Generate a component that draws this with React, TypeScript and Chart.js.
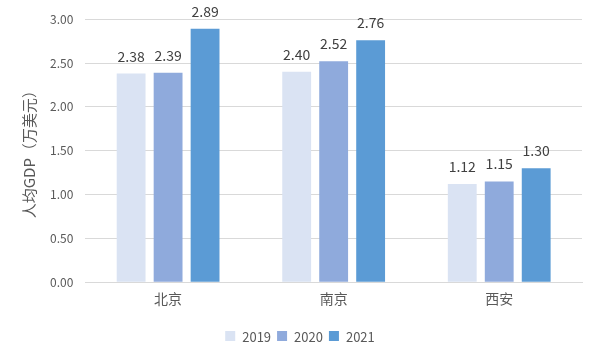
import React, { useEffect, useRef } from "react";
import { Chart, registerables } from "chart.js";

Chart.register(...registerables);

const categories = ["北京", "南京", "西安"];
const seriesNames = ["2019", "2020", "2021"];
const values2019 = [2.38, 2.4, 1.12];
const values2020 = [2.39, 2.52, 1.15];
const values2021 = [2.89, 2.76, 1.3];
const colors = ["#DAE3F3", "#8FAADC", "#5B9BD5"];
const yTicks = [0, 0.5, 1, 1.5, 2, 2.5, 3];
const yTitle = "人均GDP（万美元）";

const FONT = "'Noto Sans CJK SC', 'Noto Sans', sans-serif";

const labelPlugin = {
  id: "valueLabels",
  afterDatasetsDraw(chart: any) {
    const ctx = chart.ctx;
    ctx.save();
    ctx.font = `14px ${FONT}`;
    ctx.fillStyle = "#404040";
    ctx.textAlign = "center";
    ctx.textBaseline = "alphabetic";
    chart.data.datasets.forEach((ds: any, i: number) => {
      const meta = chart.getDatasetMeta(i);
      meta.data.forEach((bar: any, j: number) => {
        ctx.fillText(Number(ds.data[j]).toFixed(2), bar.x, bar.y - 12);
      });
    });
    ctx.restore();
  },
};

const legendPlugin = {
  id: "customLegend",
  afterDraw(chart: any) {
    const ctx = chart.ctx;
    ctx.save();
    ctx.font = `13px ${FONT}`;
    ctx.textBaseline = "middle";
    ctx.textAlign = "left";
    const box = 10;
    const gap = 7;
    const itemGap = 6;
    const items = chart.data.datasets.map((ds: any) => ({
      label: ds.label,
      color: ds.backgroundColor,
      w: box + gap + ctx.measureText(ds.label).width,
    }));
    const total = items.reduce((s: number, it: any) => s + it.w, 0) + itemGap * (items.length - 1);
    let x = chart.width / 2 - total / 2;
    const y = 336;
    items.forEach((it: any) => {
      ctx.fillStyle = it.color;
      ctx.fillRect(x, y - box / 2, box, box);
      ctx.fillStyle = "#595959";
      ctx.fillText(it.label, x + box + gap, y + 1);
      x += it.w + itemGap;
    });
    ctx.restore();
  },
};

export default function App() {
  const ref = useRef<HTMLCanvasElement>(null);
  useEffect(() => {
    document.body.style.margin = "0";
    const data = [values2019, values2020, values2021];
    const chart = new Chart(ref.current!, {
      type: "bar",
      data: {
        labels: categories,
        datasets: seriesNames.map((n, i) => ({
          label: n,
          data: data[i],
          backgroundColor: colors[i],
          borderWidth: 0,
          barPercentage: 0.78,
          categoryPercentage: 0.67,
        })),
      },
      options: {
        animation: false,
        responsive: false,
        layout: { padding: { top: 8, right: 18, left: 20, bottom: 45 } },
        plugins: {
          legend: { display: false },
          tooltip: { enabled: false },
        },
        scales: {
          x: {
            grid: { display: false, drawTicks: false },
            border: { color: "#D9D9D9", width: 1 },
            ticks: { color: "#595959", font: { family: FONT, size: 14 }, padding: 8 },
          },
          y: {
            min: 0,
            max: 3,
            afterBuildTicks: (axis: any) => {
              axis.ticks = yTicks.map((v) => ({ value: v }));
            },
            grid: { color: "#D9D9D9", drawTicks: false },
            border: { display: false },
            ticks: {
              color: "#595959",
              font: { family: FONT, size: 12 },
              padding: 12,
              callback: (v: any) => Number(v).toFixed(2),
            },
            title: {
              display: true,
              text: yTitle,
              color: "#595959",
              font: { family: FONT, size: 15 },
              padding: { top: 0, bottom: 0 },
            },
          },
        },
      },
      plugins: [labelPlugin, legendPlugin],
    });
    return () => chart.destroy();
  }, []);
  return <canvas ref={ref} width={600} height={360} style={{ display: "block" }} />;
}
